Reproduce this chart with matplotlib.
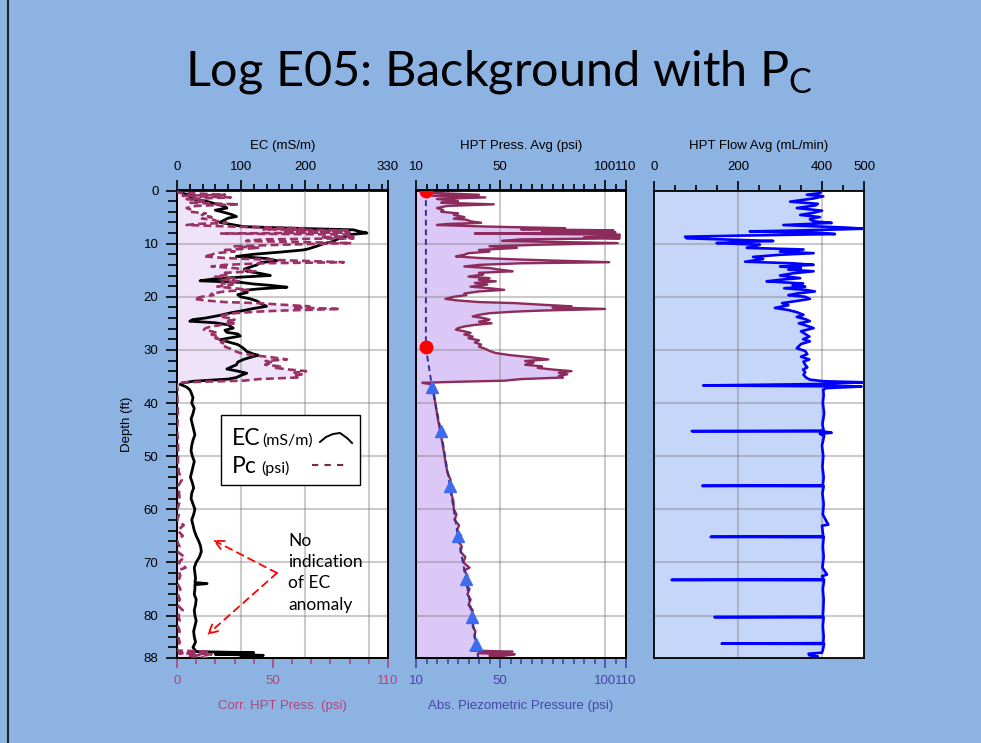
import matplotlib
matplotlib.use("Agg")
import matplotlib.pyplot as plt
import numpy as np
from matplotlib.ticker import FixedLocator
from matplotlib.patches import Rectangle
from matplotlib.lines import Line2D

# ---------------- data (depth ft, value) ----------------
depth_ticks = [0, 10, 20, 30, 40, 50, 60, 70, 80, 88]
depth_grid = [10, 20, 30, 40, 50, 60, 70, 80]

ec_ticks = [0, 100, 200, 330]
ec_grid = [100, 200, 300]
corr_ticks = [0, 50, 110]
press_ticks = [10, 50, 100, 110]
press_grid = [50, 100]
flow_ticks = [0, 200, 400, 500]
flow_grid = [200, 400]

# EC (mS/m)
ec_log = [(0.0, 5), (0.5, 8), (1.0, 25), (1.5, 20), (2.0, 45), (2.5, 60), (3.0, 75), (3.3, 78), (3.7, 60), (4.0, 70),
          (4.5, 85), (4.9, 93), (5.2, 80), (5.5, 75), (6.0, 67), (6.5, 90), (6.8, 104), (7.1, 180), (7.4, 276), (7.7, 285),
          (8.0, 297), (8.3, 270), (8.7, 265), (9.2, 250), (9.6, 244), (10.0, 230), (10.5, 218), (11.0, 205), (11.2, 197), (11.6, 161),
          (12.0, 120), (12.4, 93), (12.8, 140), (13.2, 156), (13.6, 130), (14.0, 125), (14.4, 115), (14.8, 105), (15.2, 109), (15.6, 130),
          (16.0, 146), (16.3, 100), (16.6, 60), (17.0, 36), (17.3, 100), (17.6, 120), (17.9, 150), (18.2, 172), (18.5, 130), (18.8, 104),
          (19.2, 110), (19.6, 95), (20.0, 99), (20.4, 115), (20.8, 125), (21.2, 130), (21.8, 140), (22.2, 120), (22.6, 104), (23.0, 85),
          (23.5, 67), (24.0, 45), (24.3, 25), (24.6, 20), (24.9, 60), (25.3, 80), (25.9, 88), (26.3, 75), (26.7, 78), (27.0, 95),
          (27.4, 99), (27.8, 80), (28.1, 67), (28.5, 80), (29.0, 95), (29.3, 99), (29.8, 105), (30.3, 109), (30.8, 120), (31.0, 127),
          (31.4, 115), (31.8, 104), (32.3, 95), (32.8, 93), (33.2, 85), (33.6, 78), (34.0, 95), (34.4, 109), (34.8, 100), (35.2, 93),
          (35.5, 80), (35.9, 26), (36.2, 10), (36.5, 5), (37.0, 15), (37.5, 20),
          (38, 22), (39, 25), (40, 23), (41, 27), (42, 25), (43, 22), (44, 24), (45, 26), (46, 28), (47, 25),
          (48, 23), (49, 22), (50, 24), (51, 27), (52, 25), (53, 23), (54, 21), (55, 24), (56, 26), (57, 23),
          (58, 22), (59, 25), (60, 28), (61, 26), (62, 23), (63, 25), (64, 27), (65, 30), (66, 34), (67, 37),
          (68, 38), (69, 35), (70, 30), (71, 27), (72, 28), (73, 29), (73.8, 28), (74, 47), (74.2, 28), (75, 28),
          (76, 27), (77, 30), (78, 29), (79, 27), (80, 28), (81, 30), (82, 28), (83, 26), (84, 27), (85, 29),
          (86, 25), (86.5, 28), (86.8, 30), (87.0, 120), (87.3, 60), (87.5, 135), (87.8, 100), (88.0, 130)]

# HPT pressure avg (psi)
press_log = [(0.0, 14), (0.4, 15), (0.8, 40), (1.0, 18), (1.3, 43), (1.6, 20), (2.0, 30), (2.3, 22), (2.6, 47), (2.9, 25),
             (3.3, 20), (3.7, 23), (4.0, 22), (4.3, 30), (4.6, 28), (5.0, 33), (5.3, 28), (5.5, 34), (5.8, 36), (6.1, 41),
             (6.3, 25), (6.5, 20), (6.8, 45), (7.1, 81), (7.3, 60), (7.5, 104), (7.7, 70), (7.9, 105), (8.1, 38), (8.3, 107),
             (8.6, 107), (8.8, 90), (9.0, 107), (9.2, 60), (9.5, 51), (9.7, 80), (9.9, 106), (10.2, 70), (10.5, 45), (10.8, 58),
             (11.2, 40), (11.5, 45), (11.8, 35), (12.1, 33), (12.4, 29), (12.7, 40), (13.0, 60), (13.3, 85), (13.5, 102), (13.7, 60),
             (14.0, 40), (14.3, 33), (14.6, 45), (14.9, 50), (15.2, 56), (15.5, 40), (15.8, 42), (16.2, 35), (16.5, 45), (16.8, 40),
             (17.1, 48), (17.4, 38), (17.7, 44), (18.1, 36), (18.4, 45), (18.7, 52), (19.0, 40), (19.4, 33), (19.7, 34), (20.0, 28),
             (20.4, 24), (20.7, 30), (21.0, 40), (21.2, 57), (21.5, 70), (21.8, 84), (22.0, 75), (22.3, 100), (22.6, 70), (22.8, 57),
             (23.1, 45), (23.4, 40), (23.7, 37), (24.0, 42), (24.3, 45), (24.7, 40), (25.0, 46), (25.3, 38), (25.6, 33), (25.9, 30),
             (26.2, 29), (26.5, 33), (26.8, 36), (27.1, 33), (27.5, 37), (27.8, 35), (28.2, 40), (28.6, 38), (29.0, 41), (29.4, 40),
             (29.8, 43), (30.2, 45), (30.6, 48), (31.0, 55), (31.4, 65), (31.8, 73), (32.1, 62), (32.4, 66), (32.8, 62), (33.1, 70),
             (33.4, 68), (33.7, 75), (34.0, 84), (34.3, 78), (34.6, 82), (34.9, 78), (35.2, 80), (35.5, 60), (35.8, 52), (36.0, 30),
             (36.2, 13), (36.5, 17.5), (36.8, 17.5),
             (37.5, 18.2), (39, 18.8), (41, 19.6), (43, 20.4), (45, 21.4), (47, 22.3), (49, 23.2), (51, 24.0), (53, 24.9), (54.5, 26.5),
             (55.5, 25.8), (57, 26.8), (58.5, 27.8), (60, 28.0), (61, 29.3), (62, 28.3), (63, 30.5), (64, 29.5), (65, 31.5), (66, 30.2),
             (67, 31.8), (68, 31.2), (69, 33.5), (70, 32.5), (71, 35.5), (71.5, 33.0), (72.5, 34.5), (74, 33.5), (75, 35.5), (76, 34.5),
             (77, 36.0), (78, 35.0), (79, 37.0), (80, 36.4), (81, 37.5), (82, 37.0), (83, 38.3), (84, 37.8), (85, 39.0), (86, 38.5),
             (86.6, 36.0), (86.8, 56.0), (87.1, 40.0), (87.3, 57.0), (87.6, 45.0), (88.0, 55.0)]

# Corrected HPT pressure Pc (psi)
pc_log = [(0.0, 0), (0.4, 0.3), (0.8, 25), (1.0, 3), (1.3, 28), (1.6, 5), (2.0, 15), (2.3, 7), (2.6, 32), (2.9, 10),
          (3.3, 5), (3.7, 8), (4.0, 7), (4.3, 15), (4.6, 13), (5.0, 18), (5.3, 13), (5.5, 19), (5.8, 21), (6.1, 26),
          (6.3, 10), (6.5, 5), (6.8, 30), (7.1, 66), (7.3, 45), (7.5, 89), (7.7, 55), (7.9, 90), (8.1, 23), (8.3, 92),
          (8.6, 92), (8.8, 75), (9.0, 92), (9.2, 45), (9.5, 36), (9.7, 65), (9.9, 91), (10.2, 55), (10.5, 30), (10.8, 43),
          (11.2, 25), (11.5, 30), (11.8, 20), (12.1, 18), (12.4, 14), (12.7, 25), (13.0, 45), (13.3, 70), (13.5, 87), (13.7, 45),
          (14.0, 25), (14.3, 18), (14.6, 30), (14.9, 35), (15.2, 41), (15.5, 25), (15.8, 27), (16.2, 20), (16.5, 30), (16.8, 25),
          (17.1, 33), (17.4, 23), (17.7, 29), (18.1, 21), (18.4, 30), (18.7, 37), (19.0, 25), (19.4, 18), (19.7, 19), (20.0, 13),
          (20.4, 9), (20.7, 15), (21.0, 25), (21.2, 42), (21.5, 55), (21.8, 69), (22.0, 60), (22.3, 85), (22.6, 55), (22.8, 42),
          (23.1, 30), (23.4, 25), (23.7, 22), (24.0, 27), (24.3, 30), (24.7, 25), (25.0, 31), (25.3, 23), (25.6, 18), (25.9, 15),
          (26.2, 14), (26.5, 18), (26.8, 21), (27.1, 18), (27.5, 22), (27.8, 20), (28.2, 25), (28.6, 23), (29.0, 26), (29.4, 25),
          (29.8, 28), (30.2, 30), (30.6, 33), (31.0, 39.6), (31.4, 49.5), (31.8, 57.3), (32.1, 46.2), (32.4, 50), (32.8, 45.9), (33.1, 53.7),
          (33.4, 51.6), (33.7, 58.5), (34.0, 67.3), (34.3, 61.2), (34.6, 65), (34.9, 61), (35.2, 62.8), (35.5, 42.7), (35.8, 34.6), (36.0, 12.5),
          (36.2, 0), (36.5, 0), (36.8, 0),
          (37.5, 0.3), (39, 0.2), (41, 0.4), (43, 0.4), (45, 0), (47, 0.5), (49, 0.6), (51, 0.5), (53, 0.9), (54.5, 2.5),
          (55.5, 0.8), (57, 1.1), (58.5, 1.5), (60, 0.1), (61, 1.0), (62, 0), (63, 3.5), (64, 0.4), (65, 3.0), (66, 0),
          (67, 1.3), (68, 0.3), (69, 4.0), (70, 0.8), (71, 4.5), (71.5, 0.7), (72.5, 1.7), (74, 0.2), (75, 1.8), (76, 0.4),
          (77, 1.5), (78, 0.1), (79, 3.0), (80, 0.7), (81, 1.4), (82, 0.5), (83, 1.4), (84, 0.6), (85, 1.4), (86, 0.5),
          (86.6, 0), (86.8, 17), (87.1, 1), (87.3, 18), (87.6, 6), (88.0, 16)]

# Absolute piezometric pressure (psi)
piezo_log = [(0.0, 14.7), (29.5, 14.7), (36.9, 17.6), (45.3, 21.9), (55.7, 26.2), (65.1, 30.0),
             (73.1, 33.8), (80.3, 36.7), (85.4, 38.6), (88.0, 39.7)]
water_table_log = [(0.0, 14.7), (29.5, 14.7)]
dissipation_log = [(36.9, 17.6), (45.3, 21.9), (55.7, 26.2), (65.1, 30.0), (73.1, 33.8), (80.3, 36.7), (85.4, 38.6)]

# HPT flow avg (mL/min)
flow_log = [(0.0, 400), (0.5, 395), (0.8, 364), (1.1, 403), (1.5, 380), (2.1, 324), (2.5, 390), (2.8, 385), (3.3, 340), (3.8, 400),
            (4.2, 380), (4.6, 348), (5.0, 395), (5.4, 371), (5.8, 380), (6.1, 423), (6.5, 308), (7.0, 463), (7.2, 498), (7.5, 360),
            (7.7, 228), (8.0, 400), (8.2, 431), (8.5, 200), (8.7, 74), (9.0, 78), (9.3, 200), (9.5, 284), (9.7, 200), (9.9, 149),
            (10.2, 252), (10.5, 240), (10.8, 221), (11.1, 356), (11.5, 300), (11.8, 380), (12.1, 300), (12.5, 236), (12.9, 260), (13.4, 217),
            (13.7, 330), (14.0, 380), (14.3, 300), (14.6, 350), (14.9, 320), (15.2, 380), (15.6, 330), (16.0, 300), (16.5, 348), (16.8, 300),
            (17.1, 268), (17.5, 355), (17.8, 330), (18.1, 360), (18.4, 310), (18.7, 360), (19.0, 383), (19.4, 340), (19.7, 320), (20.0, 360),
            (20.4, 371), (20.8, 340), (21.2, 305), (21.6, 320), (22.1, 288), (22.5, 320), (22.9, 340), (23.4, 356), (23.8, 340), (24.2, 360),
            (24.6, 371), (25.0, 345), (25.5, 365), (25.9, 380), (26.5, 350), (27.0, 360), (27.5, 370), (28.0, 355), (28.4, 371), (28.9, 350),
            (29.7, 340), (30.2, 360), (30.8, 365), (31.3, 350), (31.8, 370), (32.2, 356), (32.8, 360), (33.3, 365), (33.7, 355), (34.2, 360),
            (34.7, 356), (35.2, 362), (35.6, 371), (35.9, 403), (36.1, 498), (36.4, 420), (36.7, 117), (36.9, 494), (37.2, 410), (37.5, 403),
            (38.5, 404), (40, 402), (42, 405), (44, 401), (45.2, 404), (45.3, 90), (45.35, 404), (45.6, 423), (45.8, 395), (46.2, 405),
            (48, 400), (50, 403), (52, 401), (54, 404), (55.5, 402), (55.6, 115), (55.65, 404), (57, 401), (59, 404), (61, 402),
            (62.9, 415), (63.1, 400), (65.1, 403), (65.2, 135), (65.25, 404), (67, 402), (69, 404), (71, 401), (72.3, 412), (72.6, 400),
            (73.2, 404), (73.3, 42), (73.35, 405), (75, 402), (77, 404), (79, 403), (80.2, 402), (80.3, 144), (80.35, 404), (82, 402),
            (84, 404), (85.2, 403), (85.3, 161), (85.35, 405), (86.5, 402), (87.0, 400), (87.2, 368), (87.5, 370), (87.7, 390), (87.9, 390)]

# ---------------- style ----------------
BG = '#8DB3E2'
GRID_C = '#7F7F7F'
GRID_A = 0.4
PINK = '#B0467A'
NAVY_LBL = '#4646A6'
MAROON = '#8C2B5C'
PC_LINE = '#9B3266'
PC_FILL = '#EFE3FA'
PRESS_FILL = '#DCC8F6'
FLOW_FILL = '#C6D6F8'
FS = 9.5

plt.rcParams['font.family'] = ['Liberation Sans', 'DejaVu Sans']
plt.rcParams['mathtext.fontset'] = 'custom'
plt.rcParams['mathtext.rm'] = 'Lato'
plt.rcParams['mathtext.it'] = 'Lato:italic'
plt.rcParams['mathtext.bf'] = 'Lato:bold'

W, H = 981, 743
fig = plt.figure(figsize=(W / 100, H / 100), dpi=100)
fig.patch.set_facecolor(BG)

TOP, BOT = 190.5, 658


def rect(l, r, t, b):
    return [l / W, 1 - b / H, (r - l) / W, (b - t) / H]


def fp(x, y):
    return (x / W, 1 - y / H)


def spines(ax):
    for s in ax.spines.values():
        s.set_linewidth(1.3)
        s.set_color('black')


def xticks(ax, where, major, minor, color, lab_color):
    ax.xaxis.set_major_locator(FixedLocator(major))
    ax.xaxis.set_minor_locator(FixedLocator(minor))
    kw = dict(top=(where == 'top'), bottom=(where == 'bottom'),
              labeltop=(where == 'top'), labelbottom=(where == 'bottom'))
    ax.tick_params(axis='x', which='both', direction='out', color=color,
                   labelcolor=lab_color, labelsize=FS, pad=(4.8 if where == 'top' else 5.0),
                   width=1.2, **kw)
    ax.tick_params(axis='x', which='major', length=7.5)
    ax.tick_params(axis='x', which='minor', length=4.3)


def hgrid(ax):
    for d in depth_grid:
        ax.axhline(d, color=GRID_C, alpha=GRID_A, lw=1.5, zorder=2)


ec_d, ec_v = np.array(ec_log).T
pr_d, pr_v = np.array(press_log).T
pc_d, pc_v = np.array(pc_log).T
pz_d, pz_v = np.array(piezo_log).T
wt_d, wt_v = np.array(water_table_log).T
ds_d, ds_v = np.array(dissipation_log).T
fl_d, fl_v = np.array(flow_log).T

# ---------------- panel 1 : EC + Pc ----------------
ax1 = fig.add_axes(rect(177, 388, TOP, BOT))
ax1.set_facecolor('white')
ax1.set_xlim(0, 110)
ax1.set_ylim(88, 0)
ax1.fill_betweenx(pc_d, 0, pc_v, color=PC_FILL, lw=0, zorder=1)
hgrid(ax1)
xticks(ax1, 'bottom', corr_ticks, np.arange(0, 111, 10), PINK, PINK)
ax1.set_xlabel('Corr. HPT Press. (psi)', color=PINK, fontsize=FS, labelpad=9)
ax1.yaxis.set_major_locator(FixedLocator(depth_ticks))
ax1.yaxis.set_minor_locator(FixedLocator(np.arange(0, 89, 2)))
ax1.tick_params(axis='y', which='both', direction='out', labelsize=FS, width=1.2, pad=5.5)
ax1.tick_params(axis='y', which='major', length=7.8)
ax1.tick_params(axis='y', which='minor', length=6.5)
ax1.set_ylabel('Depth (ft)', fontsize=FS, labelpad=8)
spines(ax1)

ax1t = ax1.twiny()
ax1t.set_xlim(0, 330)
for v in ec_grid:
    ax1t.axvline(v, color=GRID_C, alpha=GRID_A, lw=1.5, zorder=2)
ax1t.plot(ec_v, ec_d, color='black', lw=2.0, zorder=3)
xticks(ax1t, 'top', ec_ticks, np.arange(0, 330, 20), 'black', 'black')
ax1t.set_xlabel('EC (mS/m)', fontsize=FS, labelpad=9)
spines(ax1t)

ax1c = ax1.twiny()
ax1c.set_xlim(0, 110)
ax1c.axis('off')
ax1c.plot(pc_v, pc_d, color=PC_LINE, lw=1.9, ls=(0, (3, 1.6)), zorder=4)

# ---------------- panel 2 : HPT pressure ----------------
ax2 = fig.add_axes(rect(416, 626, TOP, BOT))
ax2.set_facecolor('white')
ax2.set_xlim(10, 110)
ax2.set_ylim(88, 0)
ax2.fill_betweenx(pr_d, 10, pr_v, color=PRESS_FILL, lw=0, zorder=1)
hgrid(ax2)
for v in press_grid:
    ax2.axvline(v, color=GRID_C, alpha=GRID_A, lw=1.5, zorder=2)
ax2.plot(pr_v, pr_d, color=MAROON, lw=1.7, zorder=3)
ax2.plot(pz_v, pz_d, color='#2E3192', lw=1.4, ls=(0, (3, 2)), zorder=4)
ax2.plot(wt_v, wt_d, 'o', color='#FF0000', ms=9, zorder=5)
ax2.plot(ds_v, ds_d, '^', color='#3D6CF0', ms=8, zorder=5)
xticks(ax2, 'bottom', press_ticks, np.arange(10, 111, 5), NAVY_LBL, NAVY_LBL)
ax2.set_xlabel('Abs. Piezometric Pressure (psi)', color=NAVY_LBL, fontsize=FS, labelpad=9)
ax2.tick_params(axis='y', left=False, labelleft=False)
spines(ax2)

ax2t = ax2.twiny()
ax2t.set_xlim(10, 110)
xticks(ax2t, 'top', press_ticks, np.arange(10, 111, 5), 'black', 'black')
ax2t.set_xlabel('HPT Press. Avg (psi)', fontsize=FS, labelpad=9)
spines(ax2t)

# ---------------- panel 3 : HPT flow ----------------
ax3 = fig.add_axes(rect(654, 864, TOP, BOT))
ax3.set_facecolor('white')
ax3.set_xlim(0, 500)
ax3.set_ylim(88, 0)
ax3.fill_betweenx(fl_d, 0, fl_v, color=FLOW_FILL, lw=0, zorder=1)
hgrid(ax3)
for v in flow_grid:
    ax3.axvline(v, color=GRID_C, alpha=GRID_A, lw=1.5, zorder=2)
ax3.plot(fl_v, fl_d, color='#0000FF', lw=1.9, zorder=3)
xticks(ax3, 'top', flow_ticks, np.arange(0, 501, 50), 'black', 'black')
ax3.xaxis.set_label_position('top')
ax3.set_xlabel('HPT Flow Avg (mL/min)', fontsize=FS, labelpad=9)
ax3.tick_params(axis='y', left=False, labelleft=False)
spines(ax3)

# ---------------- legend box in panel 1 ----------------
x0, y0 = fp(221, 485)
x1, y1 = fp(360, 415)
fig.add_artist(Rectangle((x0, y0), x1 - x0, y1 - y0, transform=fig.transFigure,
                         facecolor='white', edgecolor='black', lw=1.0, zorder=5))
fig.text(*fp(232, 445), 'EC', family='Lato', fontsize=16.5, va='baseline', zorder=6)
fig.text(*fp(262, 445), '(mS/m)', family='Lato', fontsize=11.5, va='baseline', zorder=6)
fig.text(*fp(232, 473), 'Pc', family='Lato', fontsize=16.5, va='baseline', zorder=6)
fig.text(*fp(261, 473), '(psi)', family='Lato', fontsize=11.5, va='baseline', zorder=6)
lx = [320 / W, 326 / W, 333 / W, 340 / W, 347 / W, 352 / W]
ly = [1 - 442 / H, 1 - 437 / H, 1 - 434 / H, 1 - 433 / H, 1 - 438 / H, 1 - 443 / H]
fig.add_artist(Line2D(lx, ly, transform=fig.transFigure, color='black', lw=1.4, zorder=6))
fig.add_artist(Line2D([312 / W, 344 / W], [1 - 465 / H, 1 - 465 / H], transform=fig.transFigure,
                      color='#7A2A3A', lw=1.5, ls=(0, (3, 3)), zorder=6))

# ---------------- annotation ----------------
fig.text(*fp(288, 533), 'No\nindication\nof EC\nanomaly', family='Lato', fontsize=12.5,
         va='top', ha='left', linespacing=1.4, zorder=6)
for tip in [(213, 540), (207, 635)]:
    ax1c.annotate('', xy=(tip[0], H - tip[1]), xytext=(277, H - 573),
                  xycoords='figure pixels', textcoords='figure pixels', annotation_clip=False,
                  arrowprops=dict(arrowstyle='->', color='#FF0000', lw=1.3, ls=(0, (4, 3)),
                                  mutation_scale=16, shrinkA=0, shrinkB=0))

# ---------------- title and slide border ----------------
fig.text(0.509, 1 - 86 / H, 'Log E05: Background with P$_{\\mathrm{C}}$', family='Lato',
         fontsize=35, ha='center', va='baseline')
fig.add_artist(Line2D([8 / W, 8 / W], [0, 1], transform=fig.transFigure, color='#222222', lw=1.5))

fig.savefig('out.png', dpi=100, facecolor=fig.get_facecolor())
